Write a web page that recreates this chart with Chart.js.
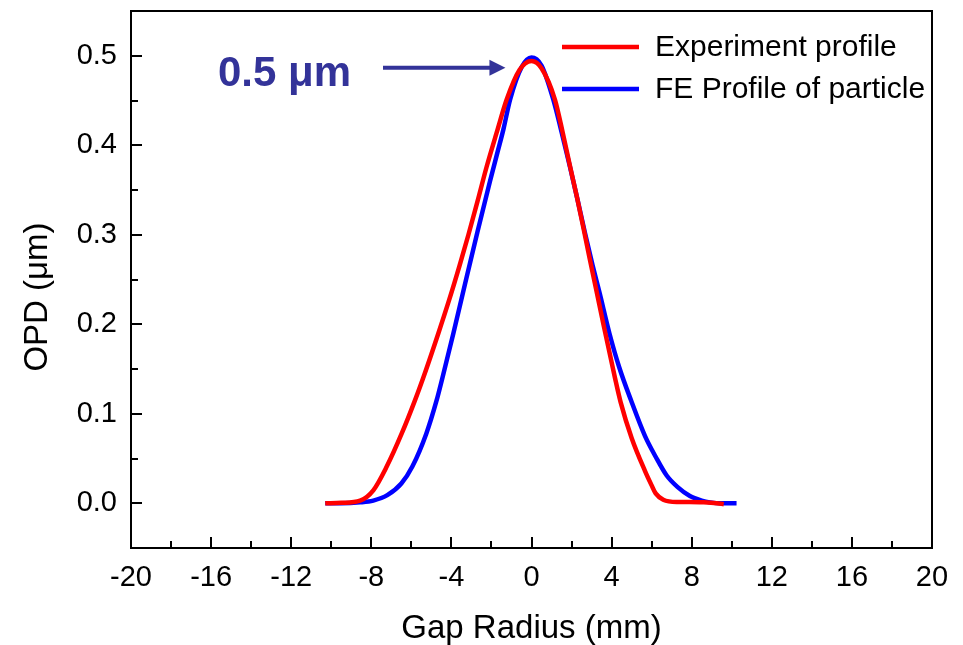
<!DOCTYPE html>
<html>
<head>
<meta charset="utf-8">
<script src="https://cdn.jsdelivr.net/npm/chart.js@4.4.1/dist/chart.umd.min.js"></script>
<style>
  html, body { margin: 0; padding: 0; background: #fff; }
  #wrap { width: 963px; height: 645px; }
</style>
</head>
<body>
<div id="wrap"><canvas id="c" width="963" height="645"></canvas></div>
<script>
// data
const expX = [-10.3,-9.5,-8.56,-7.9,-7.23,-6.48,-5.82,-5.3,-4.65,-4.1,-3.6,-3.15,-2.7,-2.24,-1.74,-1.24,-0.6,0,0.5,1.17,1.56,1.93,2.26,2.6,2.9,3.22,3.6,4.17,4.45,5,5.67,6,6.2,6.58,7.25,7.9,8.6,9.25,9.6];
const expY = [0,0.0005,0.003,0.0145,0.041,0.078,0.115,0.147,0.19,0.228,0.265,0.3,0.337,0.376,0.414,0.451,0.484,0.494,0.486,0.451,0.414,0.376,0.343,0.307,0.274,0.24,0.199,0.14,0.113,0.073,0.036,0.02,0.011,0.004,0.0015,0.0015,0.001,0,-0.001];
const feX = [-10.3,-9.5,-8.56,-7.9,-7.2,-6.5,-5.95,-5.25,-4.75,-4.45,-3.9,-3.32,-2.7,-2.07,-1.7,-1.4,-1.07,-0.5,0,0.5,1.09,1.51,1.92,2.3,2.67,3.05,3.4,3.89,4.38,4.97,5.67,6.2,6.75,7.3,7.91,8.5,8.91,9.5,10.24];
const feY = [0,0,0.001,0.003,0.009,0.022,0.041,0.078,0.114,0.14,0.19,0.245,0.303,0.36,0.392,0.418,0.451,0.487,0.498,0.489,0.451,0.414,0.376,0.339,0.302,0.266,0.235,0.19,0.152,0.115,0.075,0.052,0.031,0.018,0.008,0.003,0.001,0,0];

const seriesNames = ['Experiment profile', 'FE Profile of particle'];
const seriesColors = ['#ff0000', '#0000ff'];
const xTicks = [-20,-16,-12,-8,-4,0,4,8,12,16,20];
const xMinor = [-18,-14,-10,-6,-2,2,6,10,14,18];
const yTicks = [0,0.1,0.2,0.3,0.4,0.5];
const yMinor = [0.05,0.15,0.25,0.35,0.45];
const peakNote = '0.5 \u03bcm';
const peakValue = 0.5;

const FONT = '"Liberation Sans", Arial, sans-serif';
const pts = (xs, ys) => xs.map((x, i) => ({ x, y: ys[i] }));

// frame, inward ticks, titles, legend, arrow note
const decor = {
  id: 'decor',
  afterDraw(chart) {
    const { ctx, chartArea: a, scales: { x, y } } = chart;
    ctx.save();
    ctx.strokeStyle = '#000';
    ctx.lineWidth = 2;
    ctx.strokeRect(a.left, a.top, a.right - a.left, a.bottom - a.top);

    ctx.beginPath();
    xTicks.forEach(v => { const p = Math.round(x.getPixelForValue(v)); ctx.moveTo(p, a.bottom); ctx.lineTo(p, a.bottom - 11); });
    xMinor.forEach(v => { const p = Math.round(x.getPixelForValue(v)); ctx.moveTo(p, a.bottom); ctx.lineTo(p, a.bottom - 7); });
    yTicks.forEach(v => { const p = Math.round(y.getPixelForValue(v)); ctx.moveTo(a.left, p); ctx.lineTo(a.left + 11, p); });
    yMinor.forEach(v => { const p = Math.round(y.getPixelForValue(v)); ctx.moveTo(a.left, p); ctx.lineTo(a.left + 7, p); });
    ctx.stroke();

    // axis titles
    ctx.fillStyle = '#000';
    ctx.font = '33px ' + FONT;
    ctx.textAlign = 'center';
    ctx.textBaseline = 'alphabetic';
    ctx.fillText('Gap Radius (mm)', (a.left + a.right) / 2, 638);
    ctx.save();
    ctx.translate(47, 297);
    ctx.rotate(-Math.PI / 2);
    ctx.fillText('OPD (\u03bcm)', 0, 0);
    ctx.restore();

    // legend
    ctx.font = '30px ' + FONT;
    ctx.textAlign = 'left';
    ctx.textBaseline = 'middle';
    ctx.lineWidth = 4.5;
    chart.data.datasets.forEach((ds, i) => {
      const ly = 47 + i * 42;
      ctx.strokeStyle = ds.borderColor;
      ctx.beginPath(); ctx.moveTo(562, ly); ctx.lineTo(639, ly); ctx.stroke();
      ctx.fillText(ds.label, 655, ly + 1);
    });

    // peak annotation
    const ay = y.getPixelForValue(peakValue) + 12;
    const tip = x.getPixelForValue(-1.3);
    ctx.strokeStyle = '#333399';
    ctx.fillStyle = '#333399';
    ctx.lineWidth = 4;
    ctx.beginPath(); ctx.moveTo(383, ay); ctx.lineTo(tip - 12, ay); ctx.stroke();
    ctx.beginPath(); ctx.moveTo(tip, ay); ctx.lineTo(tip - 16, ay - 8); ctx.lineTo(tip - 16, ay + 8); ctx.closePath(); ctx.fill();
    ctx.font = 'bold 42px ' + FONT;
    ctx.textAlign = 'left';
    ctx.textBaseline = 'alphabetic';
    ctx.fillText(peakNote, 218, 86);
    ctx.restore();
  }
};

new Chart(document.getElementById('c'), {
  type: 'line',
  data: {
    datasets: [
      { label: seriesNames[0], data: pts(expX, expY), borderColor: seriesColors[0], borderWidth: 4.5, pointRadius: 0, cubicInterpolationMode: 'monotone' },
      { label: seriesNames[1], data: pts(feX, feY), borderColor: seriesColors[1], borderWidth: 4.5, pointRadius: 0, cubicInterpolationMode: 'monotone' }
    ]
  },
  options: {
    responsive: false,
    animation: false,
    layout: { padding: { left: 0, top: 11, right: 31, bottom: 0 } },
    plugins: { legend: { display: false }, tooltip: { enabled: false } },
    scales: {
      x: {
        type: 'linear', min: -20, max: 20,
        afterBuildTicks: s => { s.ticks = xTicks.map(v => ({ value: v })); },
        afterFit: s => { s.height = 97; s.paddingLeft = 0; s.paddingRight = 0; },
        grid: { display: false, drawTicks: false },
        border: { display: false },
        ticks: { color: '#000', font: { family: FONT, size: 29 }, padding: 13, maxRotation: 0, callback: v => String(v) }
      },
      y: {
        type: 'linear', min: -0.05, max: 0.55,
        afterBuildTicks: s => { s.ticks = yTicks.map(v => ({ value: v })); },
        afterFit: s => { s.width = 131; s.paddingTop = 0; s.paddingBottom = 0; },
        grid: { display: false, drawTicks: false },
        border: { display: false },
        ticks: { color: '#000', font: { family: FONT, size: 29 }, padding: 14, callback: v => v.toFixed(1) }
      }
    }
  },
  plugins: [decor]
});
</script>
</body>
</html>
